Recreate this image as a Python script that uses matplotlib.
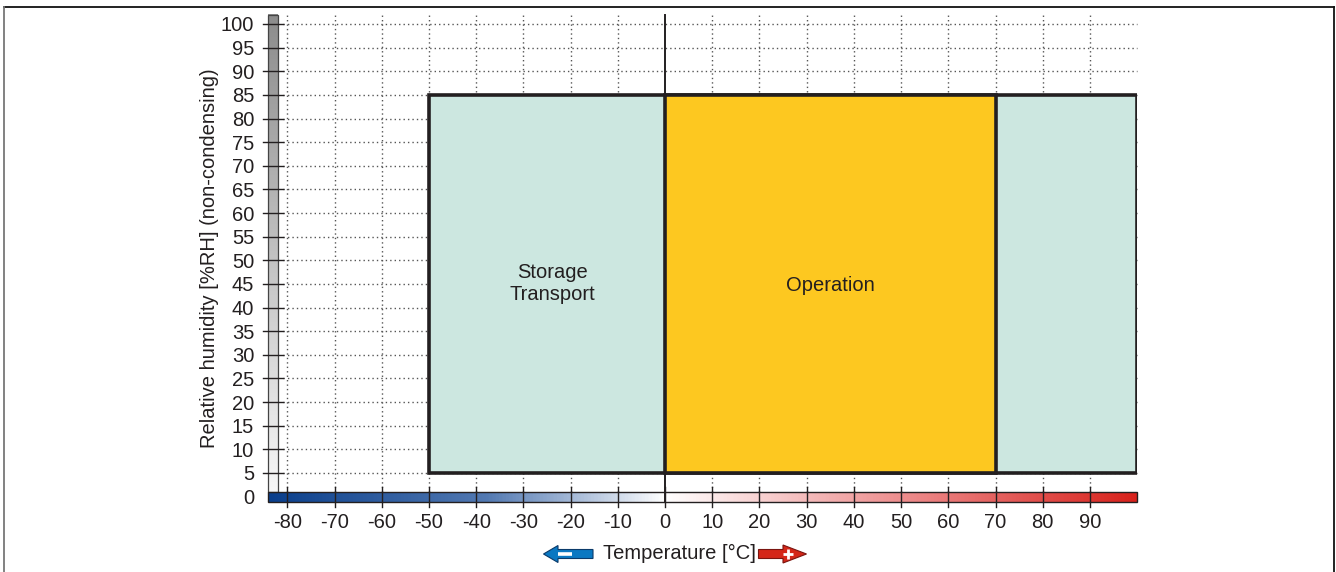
import numpy as np
import matplotlib
matplotlib.use("Agg")
import matplotlib.pyplot as plt
from matplotlib.colors import LinearSegmentedColormap
from matplotlib.patches import Rectangle, Polygon
from matplotlib.lines import Line2D

plt.rcParams['font.family'] = ['Liberation Sans', 'DejaVu Sans']

# ---- data ----
x_ticks = [-80, -70, -60, -50, -40, -30, -20, -10, 0, 10, 20, 30, 40, 50, 60, 70, 80, 90]
y_ticks = [0, 5, 10, 15, 20, 25, 30, 35, 40, 45, 50, 55, 60, 65, 70, 75, 80, 85, 90, 95, 100]
storage_temp = [-50, 100]
storage_hum = [5, 85]
operation_temp = [0, 70]
operation_hum = [5, 85]
labels = ["Storage\nTransport", "Operation"]
xlabel = "Temperature [°C]"
ylabel = "Relative humidity [%RH] (non-condensing)"

W, H = 1336, 572
fig = plt.figure(figsize=(W / 100, H / 100), dpi=100)
FS = 14.5

xmin, xmax = -84.1, 100.0
ymin, ymax = -1.2, 101.9
ax = fig.add_axes([268 / W, (H - 502.3) / H, (1137.2 - 268) / W, (502.3 - 15) / H])
ax.set_xlim(xmin, xmax)
ax.set_ylim(ymin, ymax)
for s in ax.spines.values():
    s.set_visible(False)
ax.set_facecolor('none')

dark = '#231F20'
gridc = '#555555'

# grid (dotted)
for xv in x_ticks:
    if xv == 0:
        continue
    ax.plot([xv, xv], [0.9, ymax], color=gridc, lw=1.0, ls=(0, (1, 2.2)), zorder=1, clip_on=False)
for yv in y_ticks[1:]:
    ax.plot([-80.9, xmax], [yv, yv], color=gridc, lw=1.0, ls=(0, (1, 2.2)), zorder=1, clip_on=False)

# boxes
ax.add_patch(Rectangle((storage_temp[0], storage_hum[0]), storage_temp[1] - storage_temp[0],
                       storage_hum[1] - storage_hum[0], facecolor='#CCE7E0', edgecolor=dark,
                       lw=2.6, zorder=2, joinstyle='miter'))
ax.add_patch(Rectangle((operation_temp[0], operation_hum[0]), operation_temp[1] - operation_temp[0],
                       operation_hum[1] - operation_hum[0], facecolor='#FDC820', edgecolor=dark,
                       lw=2.6, zorder=3, joinstyle='miter'))

ax.text(-23.8, 45.0, labels[0], ha='center', va='center',
        fontsize=FS, color=dark, linespacing=1.2, zorder=5)
ax.text(np.mean(operation_temp), 44.6, labels[1], ha='center', va='center',
        fontsize=FS, color=dark, zorder=5)

# grey humidity bar
grey = LinearSegmentedColormap.from_list('g', ['#F7F7F7', '#8C8C8C'])
grad = np.linspace(0, 1, 256).reshape(-1, 1)
ax.imshow(grad, extent=[-84.1, -82.0, 0.9, ymax], origin='lower', cmap=grey,
          aspect='auto', zorder=4, clip_on=False)
ax.add_patch(Rectangle((-84.1, 0.9), 2.1, ymax - 0.9, fill=False, edgecolor='#444444',
                       lw=0.9, zorder=4.5, clip_on=False))

# temperature colour bar
tcm = LinearSegmentedColormap.from_list('t', [
    (0.0, '#0A3F8C'),
    (0.25, '#5279B2'),
    (0.457, '#FFFFFF'),
    (0.75, '#EC8585'),
    (1.0, '#D8211B')])
gx = np.linspace(0, 1, 512).reshape(1, -1)
ax.imshow(gx, extent=[xmin, xmax, ymin, 0.9], origin='lower', cmap=tcm, aspect='auto',
          zorder=4, clip_on=False)
ax.add_patch(Rectangle((xmin, ymin), xmax - xmin, 0.9 - ymin, fill=False, edgecolor=dark,
                       lw=1.0, zorder=4.5, clip_on=False))

# zero line
ax.plot([0, 0], [ymin, ymax], color=dark, lw=1.4, zorder=6, clip_on=False)

# tick marks
for xv in x_ticks:
    ax.plot([xv, xv], [-2.1, 2.0], color=dark, lw=1.0, zorder=6, clip_on=False)
for yv in y_ticks[1:]:
    ax.plot([-85.1, -80.9], [yv, yv], color=dark, lw=1.0, zorder=6, clip_on=False)

ax.set_xticks(x_ticks)
ax.set_xticklabels([str(v) for v in x_ticks])
ax.set_yticks(y_ticks)
ax.set_yticklabels([str(v) for v in y_ticks])
ax.tick_params(axis='both', length=0, labelsize=FS, colors=dark)
ax.tick_params(axis='x', pad=8)
ax.tick_params(axis='y', pad=10)
ax.set_ylabel(ylabel, fontsize=FS, color=dark, labelpad=1)

# temperature label and arrows (figure pixel coordinates)
def fp(x, y):
    return (x / W, (H - y) / H)

fig.text(*fp(679, 553), xlabel, ha='center', va='center', fontsize=FS, color=dark)

blue = Polygon([fp(543.5, 554), fp(558, 545.5), fp(558, 549.5), fp(593, 549.5), fp(593, 558.5),
                fp(558, 558.5), fp(558, 562.5)], closed=True, transform=fig.transFigure,
               facecolor='#0A78C2', edgecolor='#0B3A6A', lw=0.8)
fig.add_artist(blue)
fig.add_artist(Line2D([558 / W, 572 / W], [(H - 554.3) / H] * 2, color='white', lw=2.6,
                      transform=fig.transFigure, solid_capstyle='butt'))

red = Polygon([fp(758.5, 549.5), fp(783, 549.5), fp(783, 545), fp(806.5, 554), fp(783, 563),
               fp(783, 558.5), fp(758.5, 558.5)], closed=True, transform=fig.transFigure,
              facecolor='#D42618', edgecolor='#7A1510', lw=0.8)
fig.add_artist(red)
fig.add_artist(Line2D([783 / W, 793 / W], [(H - 554) / H] * 2, color='white', lw=2.0,
                      transform=fig.transFigure, solid_capstyle='butt'))
fig.add_artist(Line2D([788 / W, 788 / W], [(H - 549) / H, (H - 559) / H], color='white', lw=2.0,
                      transform=fig.transFigure, solid_capstyle='butt'))

# outer frame
fig.add_artist(Line2D([3.5 / W, 1333.5 / W], [(H - 7) / H] * 2, color='#111111', lw=1.3,
                      transform=fig.transFigure))
fig.add_artist(Line2D([3.5 / W, 3.5 / W], [0, (H - 7) / H], color='#777777', lw=1.3,
                      transform=fig.transFigure))
fig.add_artist(Line2D([1333.5 / W, 1333.5 / W], [0, (H - 7) / H], color='#111111', lw=1.3,
                      transform=fig.transFigure))

fig.savefig('out.png', dpi=100)
